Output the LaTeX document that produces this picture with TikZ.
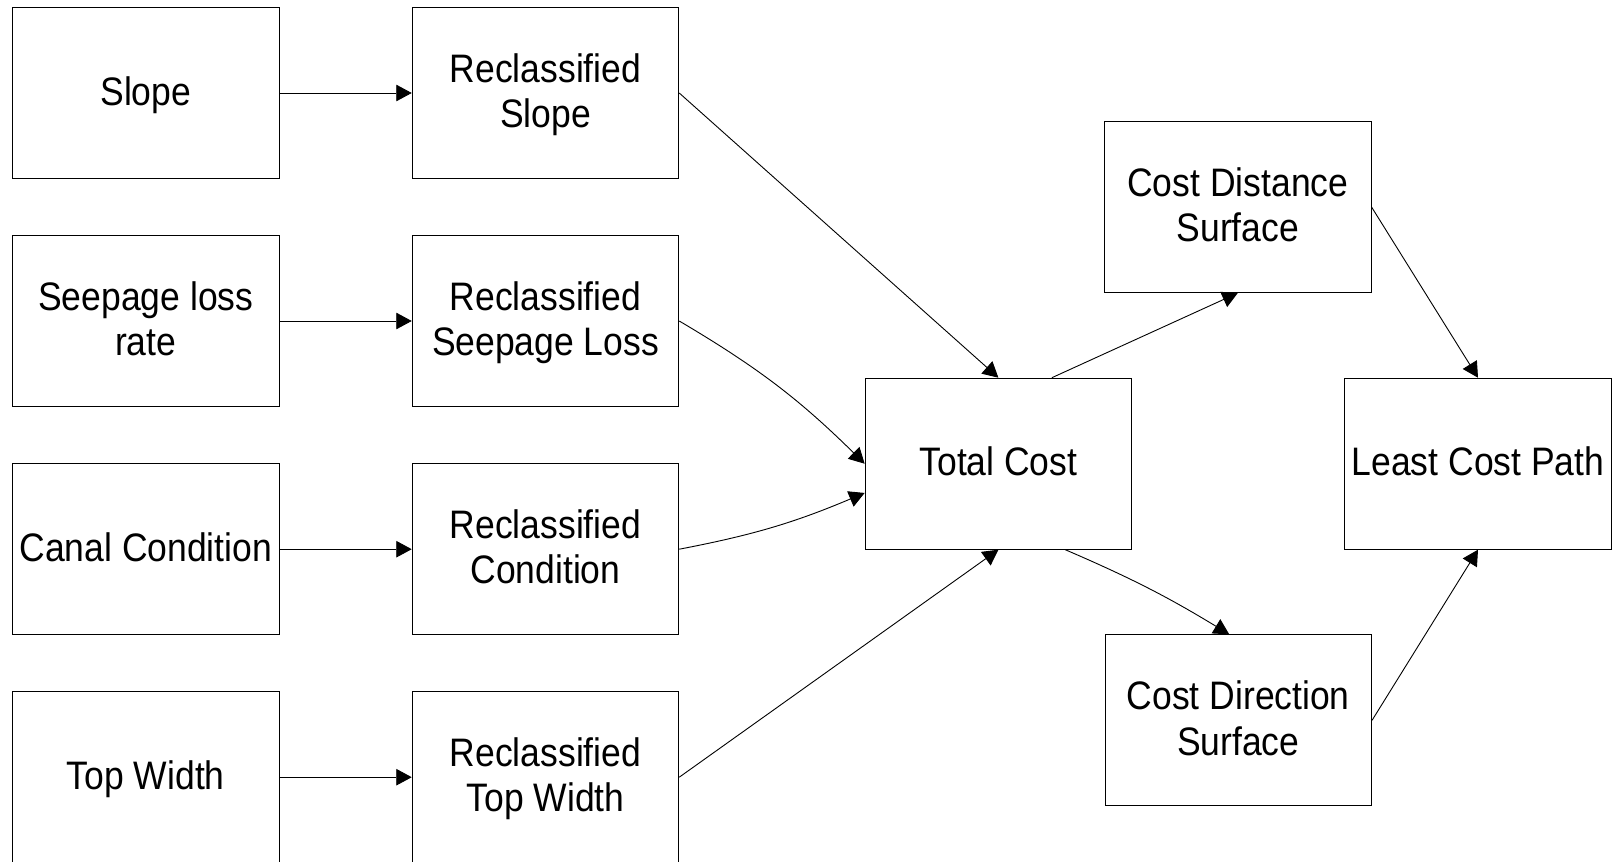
\documentclass[tikz,border=0pt]{standalone}
\usepackage{fontspec}
\usepackage{graphicx}
\setmainfont{Liberation Sans}
\usetikzlibrary{arrows.meta,calc}

% box labels: Arial-width face, slightly tall, set a little low in the box
\newcommand{\boxlabel}[1]{\raisebox{-3pt}[\height][\depth]{%
  \scalebox{1}[1.12]{\begin{tabular}{@{}c@{}}#1\end{tabular}}}}

\tikzset{
  procbox/.style={draw=black, line width=1pt, rectangle, fill=white,
    minimum width=266.5pt, minimum height=171pt, inner sep=0pt,
    font=\fontsize{35.5pt}{40.5pt}\selectfont},
  conn/.style={draw=black, line width=0.9pt, -{Triangle[length=15.5pt,width=16.5pt]}}
}

\begin{document}
\begin{tikzpicture}[x=1pt, y=-1pt]
  \useasboundingbox (0,0) rectangle (1617,862);
  \fill[white] (0,0) rectangle (1617,862);

  % input layers
  \node[procbox] (raw1) at (145.75, 93.0)  {\boxlabel{Slope}};
  \node[procbox] (raw2) at (145.75, 321.0) {\boxlabel{Seepage loss\\rate}};
  \node[procbox] (raw3) at (145.75, 549.2) {\boxlabel{Canal Condition}};
  \node[procbox] (raw4) at (145.75, 777.2) {\boxlabel{Top Width}};

  % reclassified layers
  \node[procbox] (rec1) at (545.5, 93.0)  {\boxlabel{Reclassified\\Slope}};
  \node[procbox] (rec2) at (545.5, 321.0) {\boxlabel{Reclassified\\Seepage Loss}};
  \node[procbox] (rec3) at (545.5, 549.2) {\boxlabel{Reclassified\\Condition}};
  \node[procbox] (rec4) at (545.5, 777.2) {\boxlabel{Reclassified\\Top Width}};

  % cost analysis
  \node[procbox] (total) at (998.4, 463.7)  {\boxlabel{Total Cost}};
  \node[procbox] (cdist) at (1237.8, 207.0) {\boxlabel{Cost Distance\\Surface}};
  \node[procbox] (cdir)  at (1238.3, 720.3) {\boxlabel{Cost Direction\\Surface}};
  \node[procbox] (least) at (1478.0, 463.7) {\boxlabel{Least Cost Path}};

  % reclassification steps
  \draw[conn] (raw1.east) -- (rec1.west);
  \draw[conn] (raw2.east) -- (rec2.west);
  \draw[conn] (raw3.east) -- (rec3.west);
  \draw[conn] (raw4.east) -- (rec4.west);

  % combining into the total cost
  \draw[conn] (rec1.east) -- (total.north);
  \draw[conn] (rec2.east) to[bend left=7] (total.west);
  \draw[conn] (rec3.east) to[bend right=6] ($(total.west)!0.34!(total.south west)$);
  \draw[conn] (rec4.east) -- (total.south);

  % cost surfaces and path
  \draw[conn] ($(total.north west)!0.7!(total.north east)$) -- (cdist.south);
  \draw[conn] ($(total.south west)!0.75!(total.south east)$) to[bend left=4]
              ($(cdir.north west)!0.466!(cdir.north east)$);
  \draw[conn] (cdist.east) -- (least.north);
  \draw[conn] (cdir.east) -- (least.south);
\end{tikzpicture}
\end{document}
